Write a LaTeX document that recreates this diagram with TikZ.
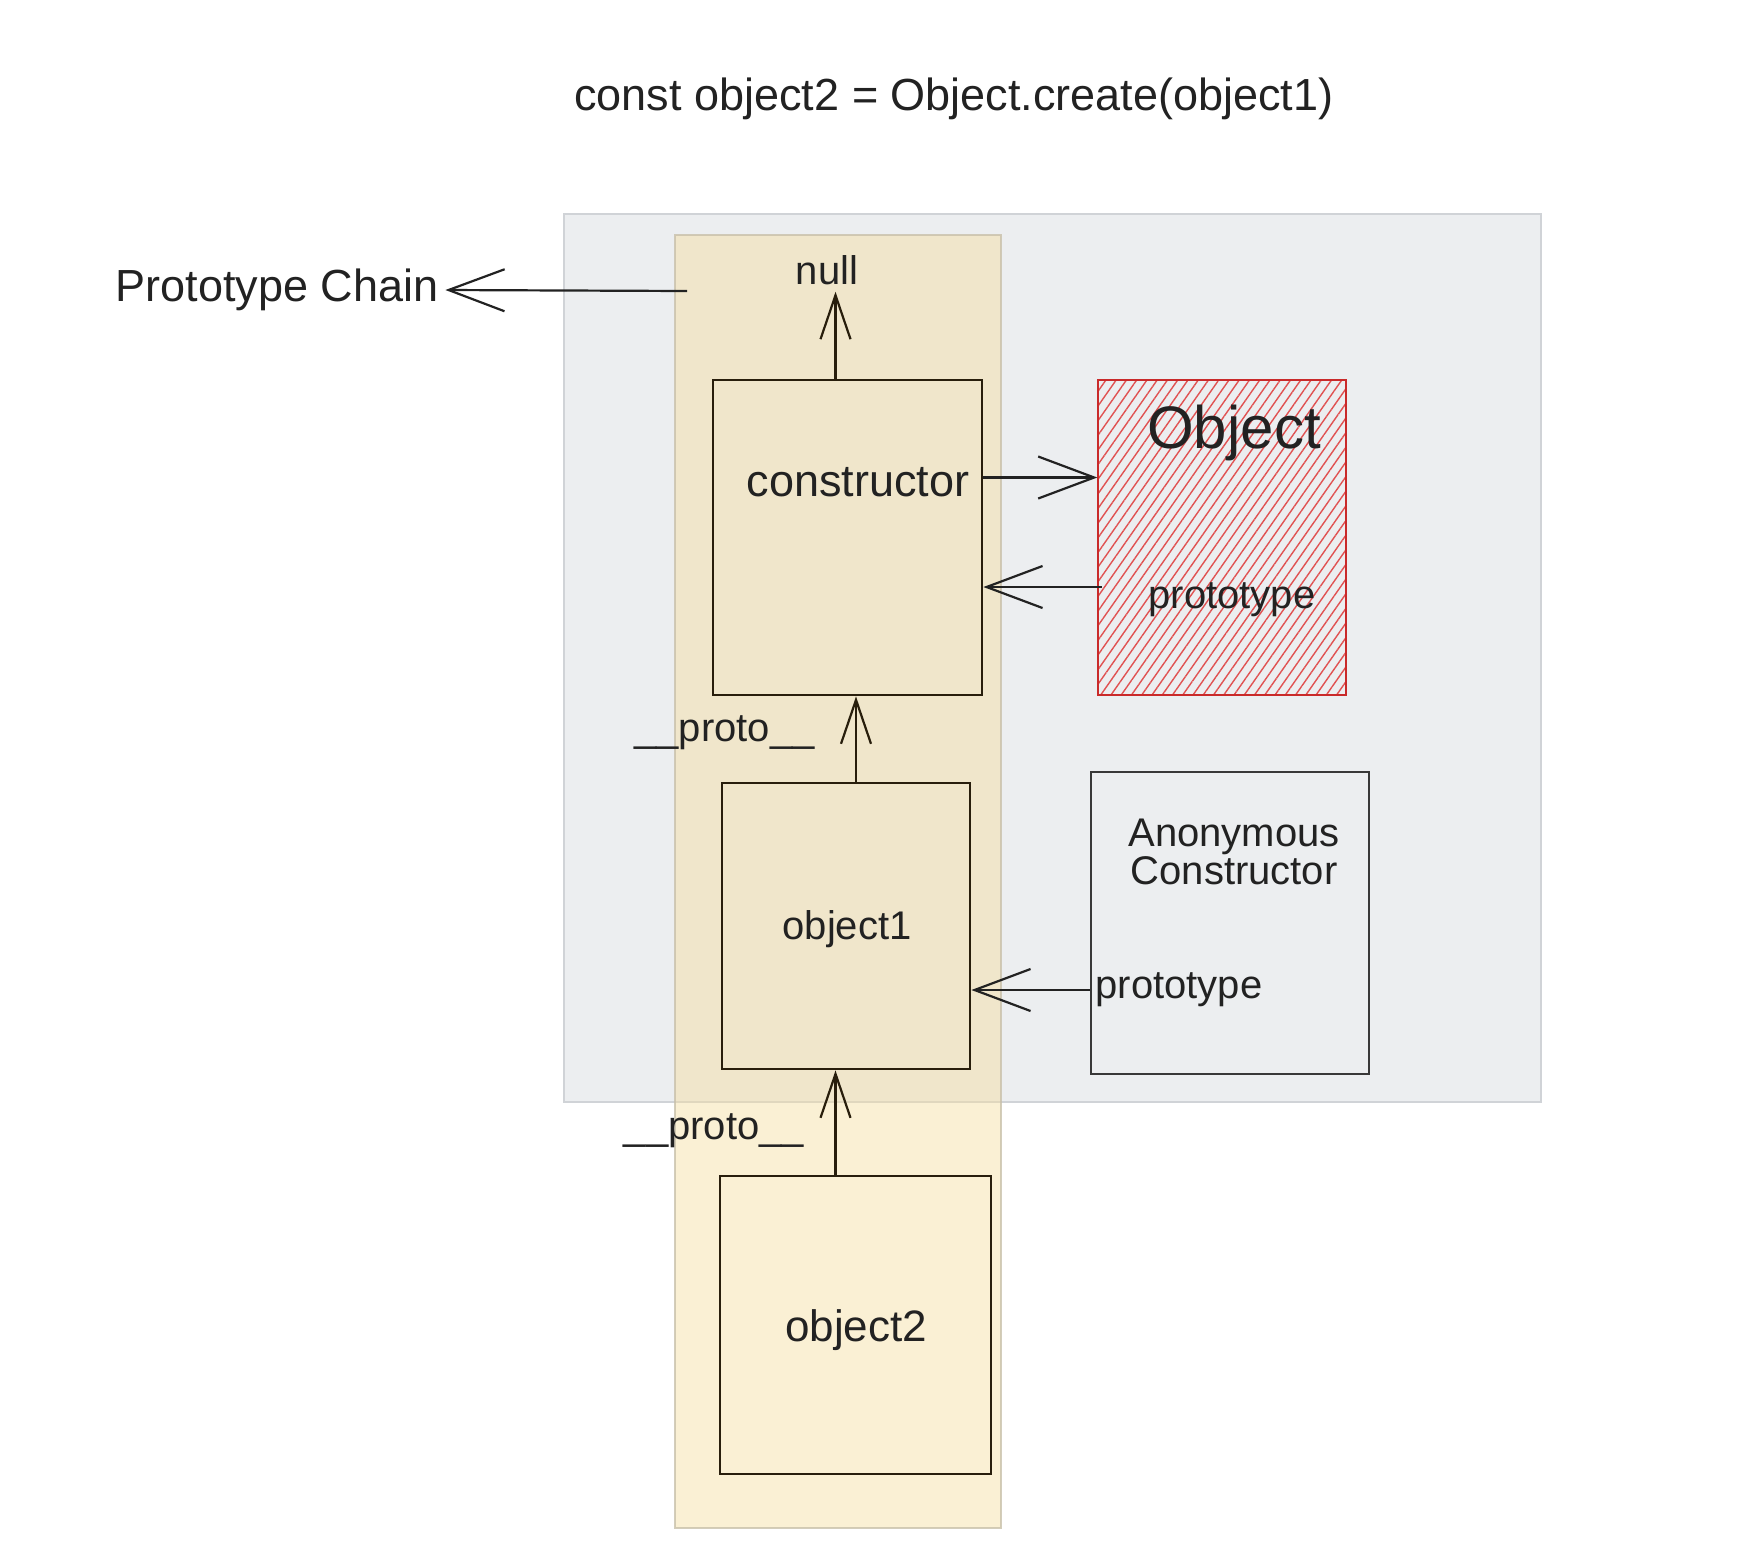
\documentclass[tikz,border=0pt]{standalone}
\usepackage{fontspec}
\setmainfont{Liberation Sans}
\usetikzlibrary{arrows.meta,patterns.meta}
\definecolor{ink}{RGB}{34,34,34}
\definecolor{boxink}{RGB}{40,30,12}
\definecolor{panelfill}{RGB}{236,238,240}
\definecolor{panelline}{RGB}{208,211,215}
\definecolor{chainfill}{RGB}{245,222,160}
\definecolor{chainline}{RGB}{200,192,170}
\definecolor{objred}{RGB}{201,42,42}
\definecolor{hatch}{RGB}{224,82,82}

\begin{document}
\begin{tikzpicture}[
  x=0.5pt, y=-0.5pt,
  font=\fontsize{20}{22}\selectfont, text=ink,
  big/.style={font=\fontsize{22.5}{24}\selectfont},
  panelbox/.style={draw=panelline, line width=0.8pt, fill=panelfill, inner sep=0pt},
  chainbox/.style={draw=chainline, line width=0.8pt, fill=chainfill, fill opacity=0.45, draw opacity=0.8, inner sep=0pt},
  objbox/.style={draw=boxink, line width=1.4pt, inner sep=0pt},
  hatchbox/.style={draw=objred, line width=1.4pt, inner sep=0pt, pattern={Lines[angle=55,distance=4.2pt,line width=0.7pt]}, pattern color=hatch},
  anonbox/.style={draw=ink!90, line width=1.4pt, inner sep=0pt},
  link/.style={draw=ink, line width=1.1pt, -{Straight Barb[length=28pt,width=21pt]}},
  uplink/.style={draw=boxink, line width=1.1pt, -{Straight Barb[length=22pt,width=15pt]}}
]
\useasboundingbox (0,0) rectangle (1764,1564);

% background regions
\node[panelbox, minimum width=488.5pt, minimum height=444pt] (panel) at (1052.5,658) {};
\node[chainbox, minimum width=163pt, minimum height=646.5pt] (column) at (838,881.5) {};

\node[big] (title) at (954,99) {const object2 = Object.create(object1)};

% objects
\node[objbox, minimum width=134.5pt, minimum height=157.5pt] (cons) at (847.5,537.5) {};
\node[hatchbox, minimum width=124pt, minimum height=157.5pt] (obj) at (1222,537.5) {};
\node[objbox, minimum width=124pt, minimum height=143pt] (obj1) at (846,926) {};
\node[anonbox, minimum width=139pt, minimum height=151pt] (anon) at (1230,923) {};
\node[objbox, minimum width=135.5pt, minimum height=149pt] (obj2) at (855.5,1325) {};

\node[big] (constxt) at (858,482) {constructor};
\node[font=\fontsize{30}{32}\selectfont] (objtxt) at (1234,433) {Object};
\node (objproto) at (1232,600) {prototype};
\node (obj1txt) at (847,929) {object1};
\node[align=center, font=\fontsize{20}{19}\selectfont] (anontxt) at (1234,852) {Anonymous\\Constructor};
\node (anonproto) at (1179,990) {prototype};
\node[font=\fontsize{22}{24}\selectfont] (obj2txt) at (856,1330) {object2};
\node (null) at (827,270) {null};
\node (proto1) at (724.5,733) {\_\_proto\_\_};
\node (proto2) at (714,1131) {\_\_proto\_\_};
\node[font=\fontsize{22.5}{24}\selectfont] (chainlbl) at (277,290) {Prototype Chain};
\coordinate (chaintail) at (687,291);
\coordinate (backtail) at (1102,587);

% links
\draw[link] (chaintail) -- (chainlbl.east);
\draw[uplink] ([xshift=-6pt]cons.north) -- ([xshift=-6pt]cons.north |- null.south);
\draw[link] ([yshift=30pt]cons.east) -- ([yshift=30pt]cons.east -| obj.west);
\draw[link] (backtail) -- (cons.east |- backtail);
\draw[link] (anon.west |- anonproto) -- (obj1.east |- anonproto);
\draw[uplink] ([xshift=5pt]obj1.north) -- ([xshift=5pt]obj1.north |- cons.south);
\draw[uplink] ([xshift=-10pt]obj2.north) -- ([xshift=-10pt]obj2.north |- obj1.south);

\end{tikzpicture}
\end{document}
